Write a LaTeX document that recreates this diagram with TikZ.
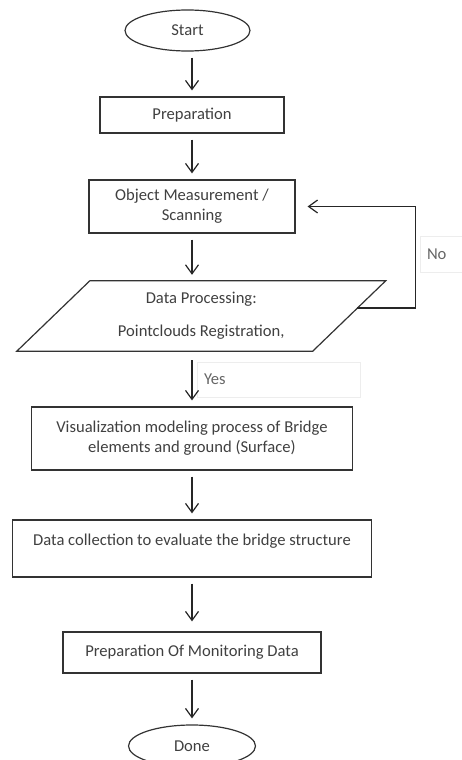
\documentclass[tikz,border=0pt]{standalone}
\usepackage{fontspec}
\setmainfont{Carlito}
\usetikzlibrary{calc,shapes.geometric,arrows.meta}

\begin{document}
\begin{tikzpicture}[x=1pt,y=-1pt,
  font=\fontsize{16.6}{20}\selectfont,
  line/.style={draw=black!80,line width=1.2pt},
  box/.style={line,text=black!75,align=center,inner sep=0pt},
  oval/.style={box,ellipse},
  lbl/.style={draw=black!7,line width=0.8pt,text=black!60,inner sep=7pt,align=left},
  arr/.style={-{Straight Barb[length=9pt,width=13pt]},line width=1.2pt,draw=black!85,shorten <=6pt,shorten >=6pt}]
  \useasboundingbox (0,0) rectangle (461,760);

  \node[oval,minimum width=125pt,minimum height=41pt] (start) at (187.5,30.5) {Start};
  \node[box,minimum width=184pt,minimum height=36pt] (prep) at (192,115) {Preparation};
  \node[box,minimum width=206pt,minimum height=53pt] (scan) at (192,206.5) {Object Measurement /\\Scanning};
  \node[align=center,text=black!75,minimum width=295.5pt,minimum height=70pt,inner sep=0pt] (proc) at (201.25,316)
    {Data Processing:\\[13pt]Pointclouds Registration,};
  \draw[line] ($(proc.north west)+(36.5,0)$) -- ($(proc.north east)+(36.5,0)$)
    -- ($(proc.south east)+(-36.5,0)$) -- ($(proc.south west)+(-36.5,0)$) -- cycle;
  \node[box,minimum width=321pt,minimum height=63pt] (vis) at (192,438.5)
    {Visualization modeling process of Bridge\\elements and ground (Surface)};
  \node[box,minimum width=359pt,minimum height=57pt,text depth=17pt] (data) at (192,548.5)
    {Data collection to evaluate the bridge structure};
  \node[box,minimum width=258pt,minimum height=41pt] (mon) at (192,652.5) {Preparation Of Monitoring Data};
  \node[oval,minimum width=127pt,minimum height=42pt] (done) at (192,746) {Done};

  \node[lbl,minimum width=50pt,minimum height=36pt,text width=36pt] (no) at (445,254) {No};
  \node[lbl,minimum width=163pt,minimum height=35pt,text width=149pt] (yes) at (278.5,379.5) {Yes};

  \draw[arr] (prep.north |- start.south) -- (prep.north);
  \draw[arr] (prep) -- (scan);
  \draw[arr] (scan.south) -- (scan.south |- proc.north);
  \draw[arr,shorten <=9pt] (vis.north |- proc.south) -- (vis.north);
  \draw[arr] (vis) -- (data);
  \draw[arr,shorten >=10pt] (data) -- (mon);
  \draw[arr] (mon) -- (done);

  \coordinate (noout) at ($(proc.east)+(8,-8)$);
  \draw[arr,shorten <=0pt,shorten >=0pt] (noout) -- ++(58,0) |- ($(scan.east)+(12,0)$);
\end{tikzpicture}
\end{document}
